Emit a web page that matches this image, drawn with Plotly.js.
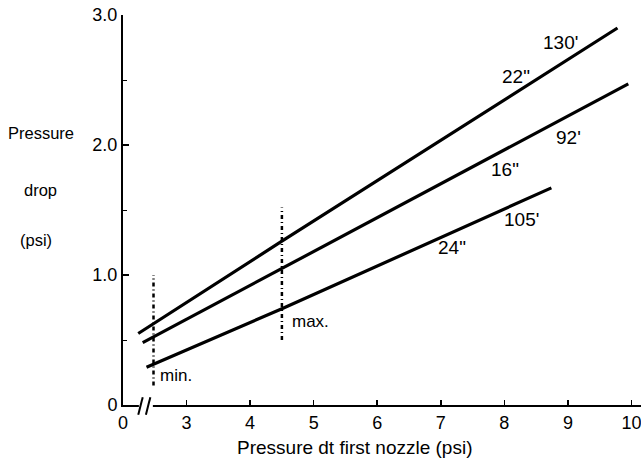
<!DOCTYPE html>
<html>
<head>
<meta charset="utf-8">
<script src="https://cdn.plot.ly/plotly-3.0.1.min.js"></script>
<style>html,body{margin:0;padding:0;background:#fff;}#chart{width:641px;height:466px;}</style>
</head>
<body>
<div id="chart"></div>
<script>
// Data (x in psi, axis begins at 2 and is drawn as "0" with a break)
const x22in = [2.24, 4.5, 9.78];
const y22in = [0.55, 1.26, 2.90];
const x16in = [2.31, 4.5, 9.95];
const y16in = [0.48, 1.05, 2.47];
const x24in = [2.37, 4.5, 8.74];
const y24in = [0.29, 0.74, 1.67];
const minX = [2.48, 2.48];
const minY = [0.15, 1.0];
const maxX = [4.5, 4.5];
const maxY = [0.50, 1.52];
const xTickVals = [2, 3, 4, 5, 6, 7, 8, 9, 10];
const xTickText = ["0", "3", "4", "5", "6", "7", "8", "9", "10"];
const yTickVals = [0, 1, 2, 3];
const yTickText = ["0", "1.0", "2.0", "3.0"];
const lineLabels = ["130'", "22\"", "92'", "16\"", "105'", "24\""];

const FONT = "Liberation Sans, Arial, sans-serif";
const solid = {color: "#000", width: 3.2};
const dashed = {color: "#000", width: 2.5, dash: "4px,3px,1px,3px"};

const traces = [
  {x: x22in, y: y22in, mode: "lines", line: solid, hoverinfo: "skip"},
  {x: x16in, y: y16in, mode: "lines", line: solid, hoverinfo: "skip"},
  {x: x24in, y: y24in, mode: "lines", line: solid, hoverinfo: "skip"},
  {x: minX, y: minY, mode: "lines", line: dashed, hoverinfo: "skip"},
  {x: maxX, y: maxY, mode: "lines", line: dashed, hoverinfo: "skip"}
];

function lab(text, x, y, size) {
  return {text: text, x: x, y: y, xref: "x", yref: "y", showarrow: false,
          font: {family: FONT, size: size || 18, color: "#000"}, xanchor: "left", yanchor: "middle"};
}
function pap(text, x, y, size, xa) {
  return {text: text, x: x, y: y, xref: "paper", yref: "paper", showarrow: false,
          font: {family: FONT, size: size || 16, color: "#000"}, xanchor: xa || "center", yanchor: "middle"};
}

const annotations = [
  lab(lineLabels[0], 8.58, 2.79, 19),
  lab(lineLabels[1], 7.93, 2.53, 19),
  lab(lineLabels[2], 8.78, 2.06, 19),
  lab(lineLabels[3], 7.76, 1.81, 19),
  lab(lineLabels[4], 7.97, 1.43, 19),
  lab(lineLabels[5], 6.92, 1.21, 19),
  lab("max.", 4.62, 0.64, 17),
  lab("min.", 2.55, 0.23, 17),
  pap("Pressure", -0.225, 0.697, 16.5, "left"),
  pap("drop", -0.159, 0.551, 16.5),
  pap("(psi)", -0.167, 0.423, 16.5),
  pap("Pressure dt first nozzle (psi)", 0.446, -0.108, 19)
];

const shapes = [
  // axis break: blank a gap in the x axis line, then two slanted strokes
  {type: "rect", xref: "x", yref: "paper", x0: 2.25, x1: 2.47, y0: -0.012, y1: 0.012,
   fillcolor: "#fff", line: {width: 0}, layer: "above"},
  {type: "line", xref: "x", yref: "paper", x0: 2.24, x1: 2.31, y0: -0.025, y1: 0.02,
   line: {color: "#000", width: 2}, layer: "above"},
  {type: "line", xref: "x", yref: "paper", x0: 2.36, x1: 2.43, y0: -0.025, y1: 0.02,
   line: {color: "#000", width: 2}, layer: "above"}
];

const layout = {
  width: 641, height: 466,
  margin: {l: 123, r: 0, t: 15, b: 61},
  paper_bgcolor: "#fff", plot_bgcolor: "#fff",
  showlegend: false,
  font: {family: FONT, color: "#000"},
  xaxis: {
    range: [2, 10.15], showgrid: false, zeroline: false,
    showline: true, linecolor: "#000", linewidth: 2,
    ticks: "inside", ticklen: 5, tickwidth: 1.5, tickcolor: "#000",
    tickmode: "array", tickvals: xTickVals, ticktext: xTickText,
    ticklabeloverflow: "allow",
    tickfont: {family: FONT, size: 18, color: "#000"}
  },
  yaxis: {
    range: [0, 3.0], showgrid: false, zeroline: false,
    showline: true, linecolor: "#000", linewidth: 2,
    ticks: "inside", ticklen: 6, tickwidth: 1.5, tickcolor: "#000",
    tickmode: "array", tickvals: yTickVals, ticktext: yTickText,
    ticklabeloverflow: "allow",
    tickfont: {family: FONT, size: 18, color: "#000"},
    minor: {ticks: "inside", ticklen: 4, tickwidth: 1, tickcolor: "#000", dtick: 0.5, tick0: 0, showgrid: false}
  },
  annotations: annotations,
  shapes: shapes
};

Plotly.newPlot("chart", traces, layout, {displayModeBar: false, staticPlot: true});
</script>
</body>
</html>
